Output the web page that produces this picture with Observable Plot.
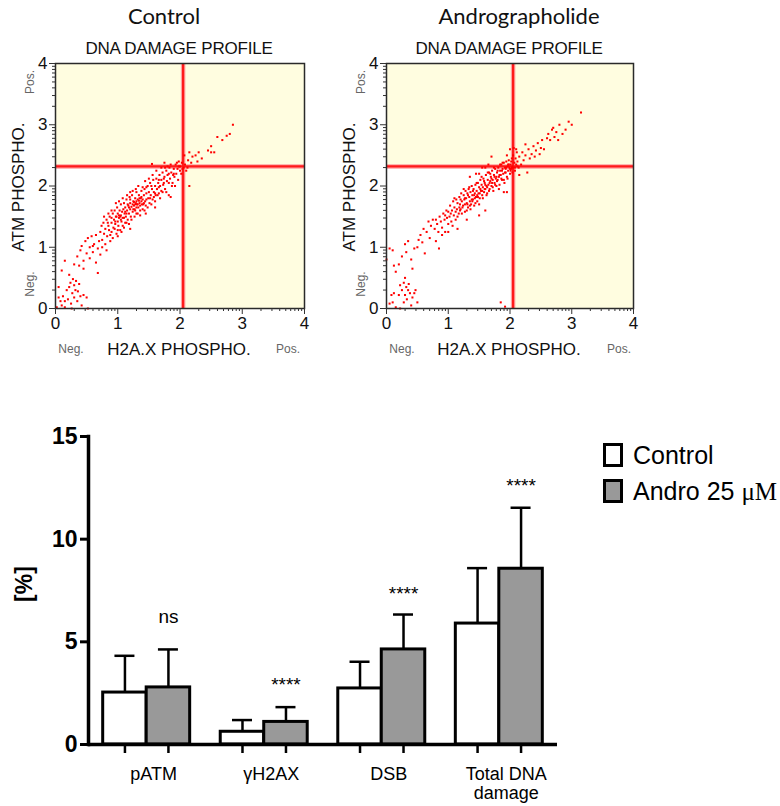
<!DOCTYPE html>
<html>
<head>
<meta charset="utf-8">
<script src="https://cdn.jsdelivr.net/npm/d3@7"></script>
<script src="https://cdn.jsdelivr.net/npm/@observablehq/plot@0.6"></script>
<style>
  html, body { margin: 0; padding: 0; background: #fff; }
  #root { position: relative; width: 780px; height: 806px; overflow: hidden; background: #fff;
          font-family: "Liberation Sans", Arial, sans-serif; color: #111; }
  #root svg { position: absolute; }
  .lbl { position: absolute; white-space: nowrap; line-height: 1; }
</style>
</head>
<body>
<div id="root"></div>
<script>
// ---------------- DATA ----------------
// Scatter panels (log-decade units 0..4)
const axisTicks = [0, 1, 2, 3, 4];
const gateX = 2.05;
const gateY = 2.32;

const controlPoints = [
  [0.02,0.02],[0.05,0.35],[0.08,0.12],[0.1,0.05],[0.12,0.2],[0.15,0.02],[0.18,0.3],[0.2,0.15],[0.22,0.35],[0.24,0.42],
  [0.25,0.08],[0.27,0.25],[0.28,0.48],[0.3,0.38],[0.3,0.18],[0.32,0.3],[0.33,0.45],[0.35,0.12],[0.36,0.28],[0.38,0.4],
  [0.4,0.2],[0.42,0.05],[0.45,0.22],[0.5,0.18],[0.52,0.0],[0.15,0.12],[0.26,0.0],[0.05,0.18],
  [0.1,0.62],[0.15,0.78],[0.22,0.55],[0.3,0.72],[0.35,0.85],[0.38,0.7],[0.4,0.95],[0.42,1.02],[0.45,0.78],[0.48,1.1],
  [0.5,0.9],[0.52,1.15],[0.55,0.82],[0.55,1.0],[0.58,1.18],[0.6,0.92],[0.62,1.05],[0.65,0.75],[0.65,1.2],[0.68,0.98],
  [0.7,1.1],[0.72,0.88],[0.68,0.58],[0.45,0.65],[0.6,1.02],
  [0.72,1.25],[0.74,1.35],[0.75,1.12],[0.77,1.4],[0.78,1.22],[0.8,1.3],[0.8,1.05],[0.82,1.45],[0.83,1.18],[0.85,1.35],
  [0.86,1.28],[0.87,1.5],[0.88,1.1],[0.9,1.4],[0.9,1.25],[0.92,1.55],[0.93,1.32],
  [0.94,1.45],[0.95,1.6],[0.96,1.38],[0.97,1.5],[0.98,1.22],[0.99,1.65],[1.0,1.42],[1.0,1.55],[1.01,1.35],[1.02,1.48],
  [1.03,1.6],[1.04,1.28],[1.05,1.52],[1.05,1.7],[1.06,1.42],[1.07,1.58],[1.08,1.35],[1.09,1.62],[1.1,1.48],[1.1,1.72],
  [1.11,1.55],[1.12,1.4],[1.12,1.65],
  [1.13,1.5],[1.14,1.78],[1.15,1.6],[1.16,1.45],[1.17,1.68],[1.18,1.55],[1.19,1.82],[1.2,1.62],[1.2,1.72],[1.21,1.5],
  [1.22,1.66],[1.23,1.85],[1.24,1.58],[1.25,1.75],[1.26,1.68],[1.27,1.62],[1.28,1.8],[1.29,1.72],[1.3,1.55],[1.3,1.9],
  [1.31,1.7],[1.32,1.78],[1.33,1.65],[1.34,1.85],[1.35,1.72],[1.36,1.6],[1.37,1.8],[1.38,1.92],[1.39,1.7],[1.4,1.78],[1.4,1.62],
  [1.42,1.85],[1.43,1.95],[1.44,1.75],[1.45,1.68],[1.46,1.88],[1.48,2.0],[1.49,1.8],[1.5,1.9],[1.51,1.72],[1.52,2.05],
  [1.53,1.85],[1.55,1.95],[1.56,1.78],[1.57,2.1],[1.58,1.9],[1.6,2.0],[1.61,1.85],[1.62,2.12],[1.63,1.95],[1.65,2.05],
  [1.66,1.88],[1.67,2.18],[1.68,2.0],[1.7,2.1],[1.7,1.92],
  [1.72,2.22],[1.73,2.02],[1.75,2.15],[1.76,1.95],[1.78,2.25],[1.79,2.08],[1.8,2.18],[1.82,1.85],[1.83,2.3],[1.84,2.12],
  [1.86,2.22],[1.88,2.05],[1.9,2.28],[1.91,2.15],[1.93,2.35],[1.94,2.2],[1.96,2.28],[1.97,2.1],[1.98,2.4],[2.0,2.25],
  [2.0,2.32],[2.02,2.2],[2.03,2.38],[2.04,2.28],
  [1.55,2.36],[1.75,2.38],[1.6,1.65],[1.85,1.82],[1.2,1.3],[1.0,1.18],[1.45,1.55],
  [1.28,1.7],[1.3,1.75],[1.32,1.7],[1.26,1.74],[1.34,1.76],[1.02,1.52],[0.98,1.5],[1.05,1.45],
  [0.75,1.0],[0.78,1.5],[0.82,0.95],[0.85,1.55],[0.88,1.2],[0.9,1.6],[0.92,1.15],[0.95,1.3],[0.97,1.72],[1.0,1.28],
  [1.02,1.75],[1.04,1.5],[1.06,1.25],[1.08,1.8],[1.1,1.32],[1.12,1.58],[1.14,1.4],[1.15,1.85],[1.16,1.7],[1.18,1.38],
  [1.2,1.9],[1.22,1.45],[1.24,1.92],[1.25,1.62],[1.27,1.5],[1.29,1.95],[1.3,1.65],[1.32,1.55],[1.33,2.0],[1.35,1.8],
  [1.36,1.52],[1.38,1.75],[1.4,1.98],[1.41,1.7],[1.43,1.6],[1.44,2.08],[1.46,1.78],[1.48,1.65],[1.5,2.12],[1.52,1.8],
  [1.54,1.7],[1.56,2.18],[1.58,1.82],[1.6,1.75],[1.62,2.25],[1.64,1.85],[1.66,2.1],[1.68,1.8],[1.7,2.3],[1.72,1.9],
  [1.74,2.05],[1.76,2.3],[1.78,1.9],[1.8,2.32],[1.82,2.05],[1.85,2.35],[1.87,2.0],[1.89,2.18],[1.92,2.0],[1.95,2.38],
  [1.2,1.78],[1.18,1.65],[1.24,1.7],[1.36,1.68],[1.38,1.82],[1.42,1.72],[1.28,1.6],[1.14,1.55],[1.08,1.48],[0.96,1.42],
  [0.9,1.48],[0.84,1.4],[1.46,1.98],[1.54,2.0],[1.6,1.88],[1.66,1.98],[1.74,2.12],[1.82,2.2],[1.9,2.2],[1.98,2.32],
  [2.06,2.3],[2.07,2.5],[2.08,2.35],[2.1,2.25],[2.12,2.3],[2.15,2.0],[2.13,2.42],[2.15,2.55],[2.18,2.38],[2.2,2.48],
  [2.25,2.5],[2.28,2.4],[2.3,2.55],[2.35,2.45],[2.45,2.58],[2.5,2.65],[2.55,2.55],[2.6,2.8],[2.68,2.75],[2.75,2.82],
  [2.8,2.85],[2.85,3.0],[2.5,2.55]
];

const androPoints = [
  [0.0,0.8],[0.05,0.08],[0.08,0.22],[0.12,0.25],[0.15,0.02],[0.2,0.22],[0.22,0.38],[0.25,0.3],[0.28,0.42],[0.3,0.22],
  [0.3,0.5],[0.32,0.35],[0.33,0.15],[0.35,0.3],[0.36,0.4],[0.38,0.25],[0.4,0.05],[0.42,0.18],[0.45,0.25],[0.47,0.3],
  [0.5,0.1],[0.22,0.0],[0.28,0.1],[0.1,0.1],[1.85,0.1],[1.92,0.03],
  [0.05,0.98],[0.1,0.95],[0.12,0.7],[0.15,0.6],[0.2,0.72],[0.25,0.85],[0.3,1.05],[0.32,0.92],[0.35,1.1],[0.4,0.8],
  [0.42,0.65],[0.45,0.98],[0.5,1.0],[0.52,1.12],[0.55,1.2],[0.58,1.08],[0.6,1.3],[0.62,0.9],[0.65,1.25],[0.68,1.42],
  [0.7,1.15],[0.72,1.35],[0.75,1.45],[0.85,0.98],[0.8,1.1],
  [0.78,1.3],[0.8,1.45],[0.82,1.38],[0.84,1.25],[0.86,1.5],[0.88,1.42],[0.9,1.32],[0.92,1.55],[0.94,1.45],[0.95,1.25],
  [0.97,1.6],[0.98,1.48],[1.0,1.38],[1.0,1.58],[1.02,1.5],[1.03,1.68],[1.05,1.42],[1.06,1.6],[1.08,1.75],[1.09,1.52],
  [1.1,1.65],[1.12,1.45],[1.13,1.78],[1.14,1.62],[1.15,1.72],[1.17,1.55],[1.18,1.82],[1.19,1.7],[1.2,1.62],[1.21,1.88],
  [1.22,1.75],[1.24,1.68],[1.25,1.85],[1.26,1.78],[1.27,1.58],[1.28,1.92],[1.29,1.8],[1.3,1.72],[1.31,1.88],[1.32,1.65],
  [1.33,1.95],[1.34,1.82],[1.35,1.75],[1.36,1.9],[1.37,1.7],[1.38,2.0],[1.39,1.85],[1.4,1.78],[1.41,1.95],[1.42,1.68],
  [1.43,1.88],[1.44,2.02],[1.45,1.82],[1.46,1.92],[1.47,1.75],[1.48,2.05],[1.49,1.88],[1.5,1.98],[1.51,1.8],[1.52,2.1],
  [1.53,1.92],[1.54,2.02],[1.55,1.85],[1.56,1.98],[1.57,2.12],[1.58,1.9],[1.59,2.05],[1.6,1.95],[1.61,2.18],[1.62,2.0],
  [1.63,1.88],[1.64,2.1],[1.65,2.02],[1.66,2.22],[1.67,1.95],[1.68,2.08],[1.69,2.15],[1.7,2.0],[1.71,2.25],[1.72,2.1],
  [1.73,1.92],[1.74,2.18],[1.75,2.05],[1.76,2.28],[1.77,2.12],[1.78,2.0],[1.79,2.22],[1.8,2.1],[1.81,2.3],[1.82,2.15],
  [1.83,2.02],[1.84,2.25],[1.85,2.18],[1.86,2.35],[1.87,2.1],[1.88,2.28],[1.89,2.2],[1.9,2.38],[1.91,2.05],[1.92,2.3],
  [1.93,2.22],[1.94,2.4],[1.95,2.15],[1.96,2.32],[1.97,2.25],[1.98,2.42],[1.99,2.3],[2.0,2.2],[2.01,2.35],[2.02,2.28],
  [2.03,2.45],[2.04,2.32],[1.95,1.9],[1.9,1.9],[1.6,1.6],[1.5,1.52],[1.3,1.45],[1.15,1.3],[1.7,2.48],[1.55,2.3],
  [1.45,2.2],[1.35,2.15],
  [0.9,1.2],[0.95,1.52],[1.0,1.25],[1.04,1.55],[1.07,1.35],[1.1,1.8],[1.12,1.58],[1.15,1.5],[1.18,1.65],[1.2,1.78],
  [1.22,1.55],[1.25,1.95],[1.27,1.7],[1.3,1.6],[1.32,1.85],[1.34,1.98],[1.36,1.62],[1.38,1.78],[1.4,1.92],[1.42,1.85],
  [1.44,1.72],[1.46,2.05],[1.48,1.82],[1.5,1.7],[1.52,1.95],[1.54,2.15],[1.56,1.8],[1.58,2.08],[1.6,2.02],[1.62,1.85],
  [1.64,2.22],[1.66,1.92],[1.68,2.2],[1.7,2.12],[1.72,1.98],[1.74,2.3],[1.76,2.02],[1.78,2.15],[1.8,2.25],[1.82,1.95],
  [1.84,2.35],[1.86,2.12],[1.88,2.38],[1.9,2.1],[1.92,2.22],[1.94,2.3],[1.96,2.12],[1.98,2.35],[2.0,2.28],[2.02,2.4],
  [2.04,2.22],[2.03,2.3],[2.01,2.25],[1.97,2.35],[1.93,2.28],[1.87,2.25],[1.83,2.18],[1.79,2.08],[1.75,2.15],[1.71,2.05],
  [1.67,2.05],[1.63,1.98],[1.59,1.95],[1.55,1.92],[1.51,1.88],[1.47,1.85],[1.43,1.8],[1.39,1.75],[1.35,1.68],[1.31,1.7],
  [1.27,1.8],[1.23,1.65],[1.19,1.6],[1.6,2.3],[1.65,2.35],[1.5,2.2],[2.08,2.25],[2.12,2.32],[2.18,2.35],[1.95,2.5],[2.05,2.5],
  [2.05,2.3],[2.06,2.62],[2.07,2.38],[2.08,2.3],[2.09,2.45],[2.1,2.35],[2.11,2.55],[2.12,2.4],[2.14,2.3],[2.15,2.48],
  [2.15,2.18],[2.2,2.55],[2.22,2.42],[2.25,2.5],[2.28,2.22],[2.3,2.6],[2.32,2.45],[2.35,2.52],[2.38,2.65],[2.4,2.48],
  [2.42,2.58],[2.45,2.7],[2.48,2.52],[2.5,2.62],[2.52,2.75],[2.55,2.6],[2.6,2.78],[2.62,2.85],[2.65,2.75],[2.68,2.92],
  [2.7,2.95],[2.72,2.8],[2.75,2.88],[2.78,2.75],[2.8,3.0],[2.85,2.85],[2.9,2.92],[2.95,3.05],[3.0,3.0],[3.15,3.2],
  [2.25,2.68],[2.1,2.6],[2.0,2.6]
];

// Bar chart
const categories = ["pATM", "γH2AX", "DSB", "Total DNA\ndamage"];
const seriesNames = ["Control", "Andro 25 μM"];
const controlMean = [2.53, 0.62, 2.73, 5.89];
const controlErrTop = [4.32, 1.19, 4.03, 8.59];
const androMean = [2.78, 1.10, 4.63, 8.56];
const androErrTop = [4.63, 1.82, 6.33, 11.53];
const sigLabels = ["ns", "****", "****", "****"];
const sigPos = [6.19, 2.89, 7.33, 12.58];
const barYTicks = [0, 5, 10, 15];

// ---------------- HELPERS ----------------
const root = document.getElementById("root");
function addSvg(svg, left, top) {
  svg.style.left = left + "px";
  svg.style.top = top + "px";
  root.appendChild(svg);
}
function label(html, cx, cy, css, rotate) {
  const d = document.createElement("div");
  d.className = "lbl";
  d.innerHTML = html;
  d.style.left = cx + "px";
  d.style.top = cy + "px";
  d.style.transform = "translate(-50%,-50%)" + (rotate ? " rotate(-90deg)" : "");
  d.style.cssText += css;
  root.appendChild(d);
}

const minorTicks = [];
for (let d = axisTicks[0]; d < axisTicks[axisTicks.length - 1]; d++) {
  for (let k = 2; k <= 9; k++) minorTicks.push(d + Math.log10(k));
}
const lowerLeft = [{x1: axisTicks[0], x2: gateX, y1: axisTicks[0], y2: gateY}];

function scatterPanel(points, left, frameLeft, frameRight) {
  const W = 330, H = 345;
  const dom = [axisTicks[0], axisTicks[axisTicks.length - 1]];
  const svg = Plot.plot({
    width: W, height: H,
    marginTop: 63, marginBottom: H - 308,
    marginLeft: frameLeft - left, marginRight: left + W - frameRight,
    x: {domain: dom},
    y: {domain: dom},
    style: {fontFamily: "'Liberation Sans', Arial, sans-serif", background: "transparent", color: "#111", overflow: "visible"},
    marks: [
      Plot.frame({fill: "#fffde0", stroke: "none"}),
      Plot.rect(lowerLeft, {x1: "x1", x2: "x2", y1: "y1", y2: "y2", fill: "white"}),
      Plot.ruleX([gateX], {stroke: "#ffa0a0", strokeWidth: 4.5}),
      Plot.ruleY([gateY], {stroke: "#ffa0a0", strokeWidth: 4.5}),
      Plot.ruleX([gateX], {stroke: "#ff1a1a", strokeWidth: 2.2}),
      Plot.ruleY([gateY], {stroke: "#ff1a1a", strokeWidth: 2.2}),
      Plot.dot(points, {x: d => d[0], y: d => d[1], r: 1.15, symbol: "square", fill: "#ff0000"}),
      Plot.frame({stroke: "#2a2a2a", strokeWidth: 1.5}),
      Plot.axisX(axisTicks, {tickSize: 6, tickPadding: 2, fontSize: 17, tickFormat: d => String(d), label: null, stroke: "#333"}),
      Plot.axisX(minorTicks, {tickSize: 3, tickFormat: () => "", label: null, stroke: "#333"}),
      Plot.axisY(axisTicks, {tickSize: 6, tickPadding: 2, fontSize: 17, tickFormat: d => String(d), label: null, stroke: "#333"}),
      Plot.axisY(minorTicks, {tickSize: 3, tickFormat: () => "", label: null, stroke: "#333"})
    ]
  });
  addSvg(svg, left, 0);
}

// ---------------- TOP PANELS ----------------
scatterPanel(controlPoints, 0, 55, 304);
scatterPanel(androPoints, 330, 386, 633);

const panels = [
  {title: "Control", titleX: 164, frameLeft: 55, frameCx: 179},
  {title: "Andrographolide", titleX: 519, frameLeft: 386, frameCx: 509}
];
for (const p of panels) {
  label(p.title, p.titleX, 16, "font-family:Lato,'Open Sans',sans-serif;font-size:22px;color:#111;");
  label("DNA DAMAGE PROFILE", p.frameCx, 48, "font-size:17px;color:#111;letter-spacing:-0.2px;");
  label("ATM PHOSPHO.", p.frameLeft - 37, 187, "font-size:17px;color:#111;", true);
  label("Pos.", p.frameLeft - 25, 82, "font-size:12px;color:#666;", true);
  label("Neg.", p.frameLeft - 25, 284, "font-size:12px;color:#666;", true);
  label("Neg.", p.frameLeft + 16, 349, "font-size:12px;color:#666;");
  label("H2A.X PHOSPHO.", p.frameCx, 349, "font-size:17px;color:#111;");
  label("Pos.", p.frameLeft + 233, 349, "font-size:12px;color:#666;");
}

// ---------------- BAR CHART ----------------
const barData = categories.flatMap((c, i) => [
  {cat: c, series: seriesNames[0], mean: controlMean[i], err: controlErrTop[i]},
  {cat: c, series: seriesNames[1], mean: androMean[i], err: androErrTop[i]}
]);
const ctrl = barData.filter(d => d.series === seriesNames[0]);
const andr = barData.filter(d => d.series === seriesNames[1]);

const BW = 570, BH = 386, bML = 88, bMR = 13, pIn = 0.26, pOut = 0.125;
const band = d3.scaleBand().domain(categories).range([bML, BW - bMR]).paddingInner(pIn).paddingOuter(pOut);
const bw = band.bandwidth(), half = bw / 2, q = bw / 4, capHalf = 10;

const barSvg = Plot.plot({
  width: BW, height: BH,
  marginTop: 16, marginBottom: 62, marginLeft: bML, marginRight: bMR,
  x: {domain: categories, paddingInner: pIn, paddingOuter: pOut, round: false},
  y: {domain: [barYTicks[0], barYTicks[barYTicks.length - 1]]},
  style: {fontFamily: "'Liberation Sans', Arial, sans-serif", background: "transparent", color: "#000", overflow: "visible"},
  marks: [
    Plot.ruleX(ctrl, {x: "cat", y1: "mean", y2: "err", dx: -q, stroke: "#000", strokeWidth: 2.5}),
    Plot.ruleX(andr, {x: "cat", y1: "mean", y2: "err", dx: q, stroke: "#000", strokeWidth: 2.5}),
    Plot.tickY(ctrl, {x: "cat", y: "err", insetLeft: q - capHalf, insetRight: bw - q - capHalf, stroke: "#000", strokeWidth: 2.5}),
    Plot.tickY(andr, {x: "cat", y: "err", insetLeft: half + q - capHalf, insetRight: q - capHalf, stroke: "#000", strokeWidth: 2.5}),
    Plot.barY(ctrl, {x: "cat", y: "mean", fill: "#ffffff", stroke: "#000", strokeWidth: 3, insetRight: half}),
    Plot.barY(andr, {x: "cat", y: "mean", fill: "#999999", stroke: "#000", strokeWidth: 3, insetLeft: half}),
    Plot.ruleY([barYTicks[0]], {stroke: "#000", strokeWidth: 3.5}),
    Plot.frame({anchor: "left", stroke: "#000", strokeWidth: 3.5}),
    Plot.axisY(barYTicks, {tickSize: 8, tickPadding: 3, fontSize: 23, fontWeight: "bold", strokeWidth: 3, label: null}),
    Plot.axisX(categories, {tickSize: 9, tickFormat: () => "", dx: -q, strokeWidth: 2.5, label: null}),
    Plot.axisX(categories, {tickSize: 9, tickFormat: () => "", dx: q, strokeWidth: 2.5, label: null}),
    Plot.axisX(categories, {tickSize: 0, tickPadding: 22, fontSize: 18, lineHeight: 1.05, dx: 7, label: null}),
    Plot.text(andr, {x: "cat", y: (d, i) => sigPos[i], text: (d, i) => sigLabels[i], dx: q, fontSize: 19})
  ]
});
addSvg(barSvg, 0, 420);

label("[%]", 24, 584, "font-size:23px;font-weight:bold;color:#000;", true);

// Legend
const legendItems = [
  {name: "Control", fill: "#ffffff", top: 443},
  {name: "Andro 25 <span style=\"font-family:'Liberation Serif','Times New Roman',serif;\">μM</span>", fill: "#999999", top: 479}
];
for (const it of legendItems) {
  const box = document.createElement("div");
  box.style.cssText = `position:absolute;left:603px;top:${it.top}px;width:14px;height:18px;border:3px solid #000;background:${it.fill};`;
  root.appendChild(box);
  const t = document.createElement("div");
  t.className = "lbl";
  t.innerHTML = it.name;
  t.style.cssText += `left:633px;top:${it.top + 12}px;transform:translate(0,-50%);font-size:25px;color:#000;`;
  root.appendChild(t);
}
</script>
</body>
</html>
